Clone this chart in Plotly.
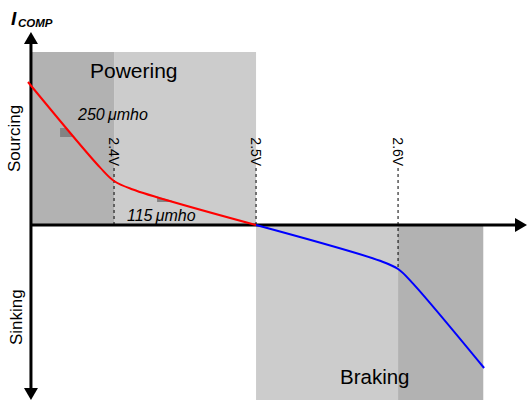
import numpy as np
import plotly.graph_objects as go

# ---- data: comparator output current vs. input voltage ----
# Voltages in volts, current in relative units (positive = sourcing)
red_v = [2.3394, 2.3901, 2.4000, 2.4127, 2.5000]
red_i = [35.75, 14.40, 11.00, 8.95, 0.00]

blue_v = [2.5000, 2.5873, 2.6000, 2.6099, 2.6606]
blue_i = [0.00, -8.95, -11.00, -14.40, -35.75]

# operating regions (voltage spans)
powering_dark = [2.3415, 2.40]
powering_light = [2.40, 2.50]
braking_light = [2.50, 2.60]
braking_dark = [2.60, 2.66]
region_top = 43.25
region_bottom = -45.0

# threshold markers
threshold_v = [2.4, 2.5, 2.6]
threshold_labels = ["2.4V", "2.5V", "2.6V"]
threshold_end = [0.0, 0.0, -10.6]
threshold_top = 14.25
threshold_label_i = 18.4

# transconductance slope indicators: (v_start, v_end, top cap, bottom level)
slope_marks = [(2.3620, 2.3721, 24.25, None), (2.4303, 2.4408, None, 5.75)]
slope_labels = ["250\u2009\u03bcmho", "115\u2009\u03bcmho"]
slope_label_pos = [(2.3986, 27.6), (2.4335, 2.5)]

# axis geometry
axis_v0 = 2.3415
x_tip = 2.6908
y_top_tip = 48.25
y_bottom_tip = -43.75
x_range = [2.3197, 2.6915]
y_range = [-43.75, 56.25]

DARK = "#b2b2b2"
LIGHT = "#cccccc"
MARK = "#838383"
FONT = "Arial, Liberation Sans, sans-serif"

fig = go.Figure()

shapes = []


def rect(v0, v1, i0, i1, color):
    return dict(type="rect", xref="x", yref="y", x0=v0, x1=v1, y0=i0, y1=i1,
                fillcolor=color, line_width=0, layer="below")


shapes.append(rect(*powering_dark, 0, region_top, DARK))
shapes.append(rect(*powering_light, 0, region_top, LIGHT))
shapes.append(rect(*braking_light, region_bottom, 0, LIGHT))
shapes.append(rect(*braking_dark, region_bottom, 0, DARK))

# slope indicators sit under the red curve
rv = np.array(red_v)
ri = np.array(red_i)
for va, vb, cap, floor in slope_marks:
    ia = float(np.interp(va, rv, ri))
    ib = float(np.interp(vb, rv, ri))
    pts = []
    if cap is not None and cap < ia:
        vc = float(np.interp(cap, ri[::-1], rv[::-1]))
        pts += [(va, cap), (vc, cap)]
    else:
        pts += [(va, ia)]
    pts += [(vb, ib)]
    if floor is not None and floor < ib:
        pts += [(vb, floor), (va, floor)]
    else:
        pts += [(va, ib)]
    path = "M " + " L ".join(f"{x} {y}" for x, y in pts) + " Z"
    shapes.append(dict(type="path", xref="x", yref="y", path=path,
                       fillcolor=MARK, line_width=0, layer="below"))

# dotted threshold lines
for v, end in zip(threshold_v, threshold_end):
    shapes.append(dict(type="line", xref="x", yref="y", x0=v, x1=v,
                       y0=threshold_top, y1=end,
                       line=dict(color="black", width=1, dash="dot"),
                       layer="below"))

# axes with arrow heads
shapes.append(dict(type="line", xref="x", yref="y", x0=axis_v0, x1=x_tip - 0.008,
                   y0=0, y1=0, line=dict(color="black", width=3), layer="below"))
shapes.append(dict(type="line", xref="x", yref="y", x0=axis_v0, x1=axis_v0,
                   y0=y_top_tip - 3.0, y1=y_bottom_tip + 2.5,
                   line=dict(color="black", width=3), layer="below"))


def arrow_head(xa, ya, path):
    return dict(type="path", xref="x", yref="y", xsizemode="pixel", ysizemode="pixel",
                xanchor=xa, yanchor=ya, path=path, fillcolor="black",
                line_width=0, layer="below")


shapes.append(arrow_head(x_tip, 0, "M 0 0 L -12 7 L -12 -7 Z"))
shapes.append(arrow_head(axis_v0, y_top_tip, "M 0 0 L -7 -12 L 7 -12 Z"))
shapes.append(arrow_head(axis_v0, y_bottom_tip, "M 0 0 L -7 12 L 7 12 Z"))

# characteristic curves
fig.add_trace(go.Scatter(x=red_v, y=red_i, mode="lines",
                         line=dict(color="#ff0000", width=2, shape="spline", smoothing=1),
                         hoverinfo="skip"))
fig.add_trace(go.Scatter(x=blue_v, y=blue_i, mode="lines",
                         line=dict(color="#0000ff", width=2, shape="spline", smoothing=1),
                         hoverinfo="skip"))

annotations = []


def label(text, x, y, size, xref="x", yref="y", angle=0, xanchor="center", yanchor="middle"):
    annotations.append(dict(text=text, x=x, y=y, xref=xref, yref=yref, showarrow=False,
                            textangle=angle, xanchor=xanchor, yanchor=yanchor,
                            font=dict(family=FONT, size=size, color="black")))


label("Powering", 2.4141, 38.75, 21)
label("Braking", 2.58345, -37.75, 20.5)
for txt, (x, y) in zip(slope_labels, slope_label_pos):
    label(f"<i>{txt}</i>", x, y, 16)
for v, txt in zip(threshold_v, threshold_labels):
    label(txt, v, threshold_label_i, 14, angle=90)

label("Sourcing", 15 / 528, 1 - 139 / 400, 17, xref="paper", yref="paper", angle=-90)
label("Sinking", 16 / 528, 1 - 317 / 400, 17, xref="paper", yref="paper", angle=-90)
label("<b><i>I</i></b>", 9 / 528, 1 - 18 / 400, 19, xref="paper", yref="paper", xanchor="left")
label("<b><i>COMP</i></b>", 16 / 528, 1 - 23 / 400, 11.5, xref="paper", yref="paper", xanchor="left")

fig.update_layout(
    width=528, height=400,
    margin=dict(l=0, r=0, t=0, b=0),
    paper_bgcolor="white", plot_bgcolor="white",
    showlegend=False,
    shapes=shapes,
    annotations=annotations,
    xaxis=dict(range=x_range, visible=False, fixedrange=True),
    yaxis=dict(range=y_range, visible=False, fixedrange=True),
)

fig.write_html("out.html")
